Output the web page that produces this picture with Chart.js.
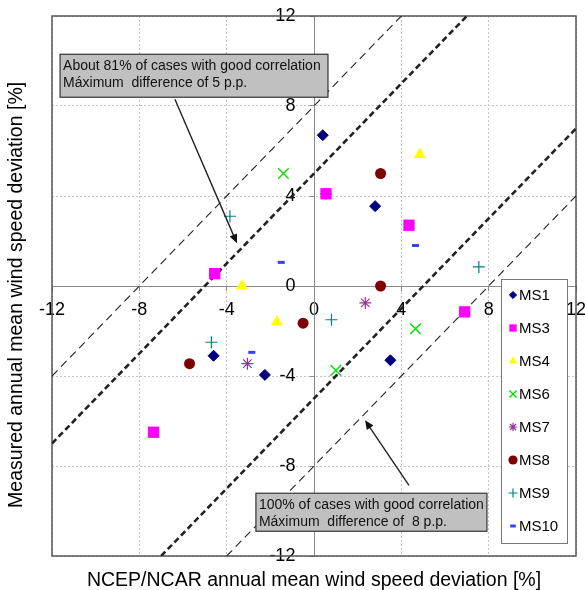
<!DOCTYPE html>
<html>
<head>
<meta charset="utf-8">
<script src="https://cdn.jsdelivr.net/npm/chart.js@4/dist/chart.umd.min.js"></script>
<style>
  html, body { margin: 0; padding: 0; background: #fff; }
  #wrap { width: 585px; height: 590px; position: relative; }
</style>
</head>
<body>
<div id="wrap"><canvas id="c" width="585" height="590"></canvas></div>
<script>
// ---- data ----
const xTickValues = [-12, -8, -4, 0, 4, 8, 12];
const yTickValues = [-12, -8, -4, 0, 4, 8, 12];
const seriesNames = ['MS1', 'MS3', 'MS4', 'MS6', 'MS7', 'MS8', 'MS9', 'MS10'];
const ms1 = [[0.4, 6.7], [2.8, 3.55], [-4.6, -3.1], [-2.25, -3.95], [3.5, -3.3]];
const ms3 = [[0.55, 4.1], [4.35, 2.7], [-4.55, 0.55], [6.9, -1.15], [-7.35, -6.5]];
const ms4 = [[4.85, 5.85], [-3.3, 0.0], [-1.7, -1.6]];
const ms6 = [[-1.4, 5.0], [4.65, -1.9], [1.0, -3.75]];
const ms7 = [[0.55, 4.1], [2.35, -0.75], [-3.05, -3.45]];
const ms8 = [[3.05, 5.0], [3.05, 0.0], [-0.5, -1.65], [-5.7, -3.45]];
const ms9 = [[-3.85, 3.1], [7.55, 0.85], [-4.7, -2.5], [0.8, -1.5]];
const ms10 = [[-1.5, 1.05], [4.65, 1.8], [-2.85, -2.95]];
// reference lines y = x + offset
const lineOffsets = [8, 5, -5, -8];
// annotation boxes and arrows (data units)
const noteBoxes = [
  { x0: -11.63, y0: 10.3, x1: 0.64, y1: 8.39,
    lines: ['About 81% of cases with good correlation', 'Máximum  difference of 5 p.p.'] },
  { x0: -2.66, y0: -9.21, x1: 7.92, y1: -10.9,
    lines: ['100% of cases with good correlation', 'Máximum  difference of  8 p.p.'] }
];
const arrowsData = [
  { from: [-6.37, 8.3], to: [-3.53, 1.9] },
  { from: [4.35, -8.86], to: [2.34, -5.97] }
];

const FONT = "'Liberation Sans', Arial, Helvetica, sans-serif";
Chart.defaults.font.family = FONT;
Chart.defaults.color = '#000';

const styles = [
  { color: '#000080', style: 'rectRot', r: 5.5, bw: 1, lr: 3.6 },
  { color: '#FF00FF', style: 'rect', r: 8, bw: 0, lr: 5.2 },
  { color: '#FFFF00', style: 'triangle', r: 7, bw: 0, lr: 4.8 },
  { color: '#00E000', style: 'crossRot', r: 7.5, bw: 1.4, lr: 5 },
  { color: '#993399', style: 'star', r: 6, bw: 1.2, lr: 4.2 },
  { color: '#800000', style: 'circle', r: 5.5, bw: 0, lr: 4.6 },
  { color: '#008080', style: 'cross', r: 6, bw: 1.2, lr: 4.5 },
  { color: '#3344EE', style: 'line', r: 3.5, bw: 3, lr: 2.8 }
];
const seriesData = [ms1, ms3, ms4, ms6, ms7, ms8, ms9, ms10];

const datasets = seriesData.map((arr, i) => ({
  label: seriesNames[i],
  data: arr.map(p => ({ x: p[0], y: p[1] })),
  pointStyle: styles[i].style,
  pointRadius: styles[i].r,
  pointHoverRadius: styles[i].r,
  pointBackgroundColor: styles[i].color,
  pointBorderColor: styles[i].color,
  pointBorderWidth: styles[i].bw,
  showLine: false
}));

function clipLine(c) {
  const xa = Math.max(-12, -12 - c), xb = Math.min(12, 12 - c);
  return [{ x: xa, y: xa + c }, { x: xb, y: xb + c }];
}
lineOffsets.forEach(c => {
  const thick = Math.abs(c) === 5;
  datasets.push({
    label: 'ref' + c,
    isRef: true,
    data: clipLine(c),
    showLine: true,
    pointRadius: 0,
    pointHoverRadius: 0,
    borderColor: '#222',
    borderWidth: thick ? 2.6 : 1.1,
    borderDash: thick ? [6, 3.5] : [8, 5],
    fill: false
  });
});

const framePlugin = {
  id: 'frame',
  beforeDatasetsDraw(chart) {
    const { ctx, chartArea: a } = chart;
    ctx.save();
    ctx.strokeStyle = '#555';
    ctx.lineWidth = 1.5;
    ctx.strokeRect(a.left, a.top, a.right - a.left, a.bottom - a.top);
    ctx.restore();
  }
};

const notesPlugin = {
  id: 'notes',
  afterDatasetsDraw(chart) {
    const { ctx } = chart;
    const xs = chart.scales.x, ys = chart.scales.y;
    ctx.save();
    // arrows
    arrowsData.forEach(a => {
      const x1 = xs.getPixelForValue(a.from[0]), y1 = ys.getPixelForValue(a.from[1]);
      const x2 = xs.getPixelForValue(a.to[0]), y2 = ys.getPixelForValue(a.to[1]);
      const ang = Math.atan2(y2 - y1, x2 - x1);
      const hl = 9, hw = 4;
      ctx.strokeStyle = '#222';
      ctx.fillStyle = '#111';
      ctx.lineWidth = 1.4;
      ctx.setLineDash([]);
      ctx.beginPath();
      ctx.moveTo(x1, y1);
      ctx.lineTo(x2 - Math.cos(ang) * hl * 0.8, y2 - Math.sin(ang) * hl * 0.8);
      ctx.stroke();
      ctx.beginPath();
      ctx.moveTo(x2, y2);
      ctx.lineTo(x2 - Math.cos(ang) * hl + Math.sin(ang) * hw, y2 - Math.sin(ang) * hl - Math.cos(ang) * hw);
      ctx.lineTo(x2 - Math.cos(ang) * hl - Math.sin(ang) * hw, y2 - Math.sin(ang) * hl + Math.cos(ang) * hw);
      ctx.closePath();
      ctx.fill();
    });
    // boxes
    noteBoxes.forEach(b => {
      const l = xs.getPixelForValue(b.x0), r = xs.getPixelForValue(b.x1);
      const t = ys.getPixelForValue(b.y0), bt = ys.getPixelForValue(b.y1);
      ctx.fillStyle = '#c0c0c0';
      ctx.fillRect(l, t, r - l, bt - t);
      ctx.strokeStyle = '#333';
      ctx.lineWidth = 1.2;
      ctx.strokeRect(l, t, r - l, bt - t);
      ctx.fillStyle = '#111';
      ctx.font = '14px ' + FONT;
      ctx.textAlign = 'left';
      ctx.textBaseline = 'middle';
      ctx.fillText(b.lines[0], l + 3, t + 12);
      ctx.fillText(b.lines[1], l + 3, t + 28.5);
    });
    // legend
    const lx = 501, ly = 279, lw = 66, lh = 264;
    ctx.fillStyle = '#fff';
    ctx.fillRect(lx, ly, lw, lh);
    ctx.strokeStyle = '#777';
    ctx.lineWidth = 1;
    ctx.strokeRect(lx + 0.5, ly + 0.5, lw, lh);
    chart.data.datasets.forEach((ds, i) => {
      if (ds.isRef) return;
      const yy = ly + 16 + i * 33;
      const st = styles[i];
      ctx.fillStyle = st.color;
      ctx.strokeStyle = st.color;
      ctx.lineWidth = st.bw;
      if (Chart.helpers && Chart.helpers.drawPoint) {
        Chart.helpers.drawPoint(ctx, {
          pointStyle: st.style, radius: st.lr, rotation: 0,
          borderWidth: st.style === 'line' ? 2.2 : st.bw
        }, lx + 12, yy);
      }
      ctx.fillStyle = '#000';
      ctx.font = '15px ' + FONT;
      ctx.textAlign = 'left';
      ctx.textBaseline = 'middle';
      ctx.fillText(ds.label, lx + 18, yy + 0.5);
    });
    ctx.restore();
  }
};

function axisOpts(ticksArr, isY) {
  return {
    type: 'linear',
    min: -12, max: 12,
    position: isY ? { x: 0 } : { y: 0 },
    afterBuildTicks: s => { s.ticks = ticksArr.map(v => ({ value: v })); },
    afterFit: s => { s.paddingLeft = 0; s.paddingRight = 0; s.paddingTop = 0; s.paddingBottom = 0; },
    ticks: {
      autoSkip: false,
      maxRotation: 0,
      padding: 9,
      color: '#000',
      font: { size: 18, family: FONT },
      callback: v => isY ? String(v) + '   \u2009' : String(v)
    },
    grid: {
      color: '#c4c4c4',
      lineWidth: 1,
      tickLength: 4,
      tickColor: '#888',
      tickBorderDash: [],
      drawTicks: true
    },
    border: { display: true, color: '#8a8a8a', width: 1, dash: [2, 2] }
  };
}

new Chart(document.getElementById('c'), {
  type: 'scatter',
  data: { datasets },
  options: {
    responsive: false,
    animation: false,
    events: [],
    layout: { padding: { top: 16, right: 9, left: 0, bottom: 0 } },
    scales: {
      x: axisOpts(xTickValues, false),
      y: axisOpts(yTickValues, true)
    },
    plugins: {
      legend: { display: false },
      tooltip: { enabled: false },
      title: {
        display: true,
        text: '   Measured annual mean wind speed deviation [%]',
        position: 'left',
        color: '#000',
        font: { size: 19.5, weight: 'normal', family: FONT },
        padding: { top: 5.3, bottom: 23.3 }
      },
      subtitle: {
        display: true,
        text: 'NCEP/NCAR annual mean wind speed deviation [%]',
        position: 'bottom',
        fullSize: false,
        color: '#000',
        font: { size: 19.5, weight: 'normal', family: FONT },
        padding: { top: 13, bottom: -2.4 }
      }
    }
  },
  plugins: [framePlugin, notesPlugin]
});
</script>
</body>
</html>
